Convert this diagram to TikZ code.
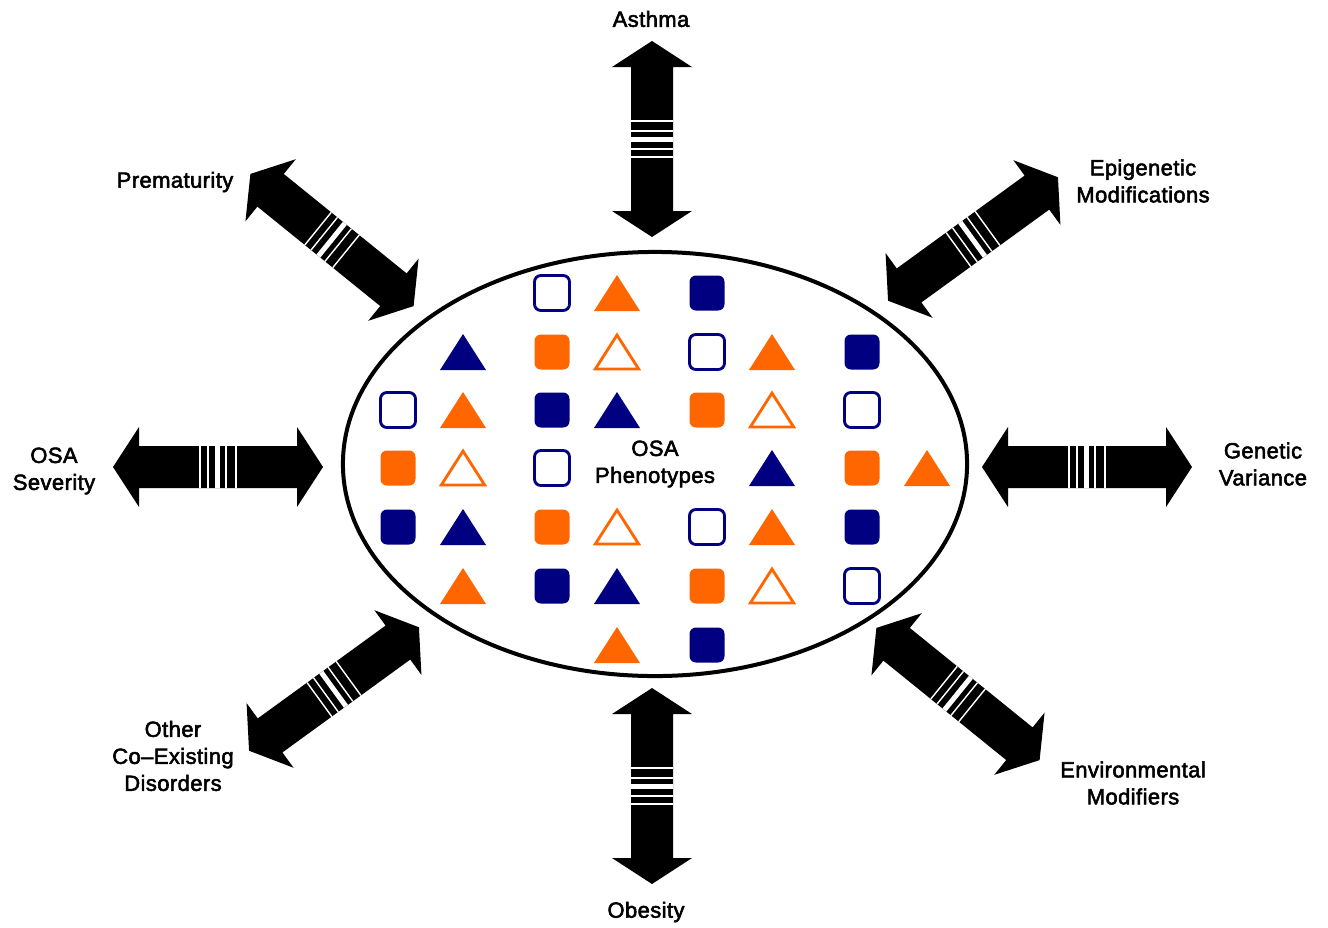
\documentclass[tikz,border=0pt]{standalone}
\usepackage{fontspec}
\newfontfamily\lblfont{Liberation Sans}[FakeBold=2.5,LetterSpace=2]
\usetikzlibrary{shapes.geometric}
\definecolor{PhenoNavy}{HTML}{000080}
\definecolor{PhenoOrange}{HTML}{FF6600}

\begin{document}
\begin{tikzpicture}[
    x=0.025cm, y=-0.025cm,
    lbl/.style={font=\lblfont\fontsize{15.6}{19.2}\selectfont,align=center,inner sep=0pt},
    % block arrow with two heads, #1 = half length
    dblarrow/.pic={
      \fill (-#1,0) -- (-#1+26,40) -- (-#1+26,21) -- (#1-26,21) -- (#1-26,40)
        -- (#1,0) -- (#1-26,-40) -- (#1-26,-21) -- (-#1+26,-21) -- (-#1+26,-40) -- cycle;
      \foreach \s in {-18,-10,8,18}
        \draw[white,line width=1pt] (\s,-21) -- (\s,21);
      \fill[white] (-3,-21) rectangle (2,21);
    },
    sq/.pic={\path[pic actions,rounded corners=4.5pt] (-17.5,-17.5) rectangle (17.5,17.5);},
    tri/.pic={\path[pic actions] (-23,18) -- (0,-18) -- (23,18) -- cycle;}
  ]
    \useasboundingbox (0,0) rectangle (1328,927);

    % centre
    \node[lbl,draw,ellipse,line width=2.85pt,minimum width=15.6cm,minimum height=10.6cm]
      (pheno) at (655,464) {OSA\\Phenotypes};

    % phenotype marks
    \foreach \x/\y in {707/293,862/352,552/410,398/527,862/527,552/586,707/645}
      \pic[fill=PhenoNavy] at (\x,\y) {sq};
    \foreach \x/\y in {552/293,707/352,398/410,862/410,552/468,707/527,862/586}
      \pic[draw=PhenoNavy,line width=2pt,fill=white] at (\x,\y) {sq};
    \foreach \x/\y in {552/352,707/410,398/468,862/468,552/527,707/586}
      \pic[fill=PhenoOrange] at (\x,\y) {sq};
    \foreach \x/\y in {617/293,772/352,463/410,927/468,772/527,463/586,617/645}
      \pic[fill=PhenoOrange] at (\x,\y) {tri};
    \foreach \x/\y in {617/352,772/410,463/468,617/527,772/586}
      \pic[draw=PhenoOrange,line width=2pt,fill=white,scale=0.94] at (\x,\y) {tri};
    \foreach \x/\y in {463/352,617/410,772/468,463/527,617/586}
      \pic[fill=PhenoNavy] at (\x,\y) {tri};

    % factors
    \node[lbl] (asthma) at (651,19) {Asthma};
    \node[lbl] (prem) at (175,182) {Prematurity};
    \node[lbl] (epi) at (1143,181) {Epigenetic\\Modifications};
    \node[lbl] (sev) at (54,471) {OSA\\Severity};
    \node[lbl] (gen) at (1263,464) {Genetic\\Variance};
    \node[lbl] (other) at (173,756) {Other\\Co–Existing\\Disorders};
    \node[lbl] (obes) at (646,912) {Obesity};
    \node[lbl] (env) at (1133,783) {Environmental\\Modifiers};

    % arrows
    \pic[rotate=90] at (652,139) {dblarrow=98};
    \pic[rotate=90] at (652,786) {dblarrow=98};
    \pic at (218,467) {dblarrow=105};
    \pic at (1087,467) {dblarrow=105};
    \pic[rotate=-39] at (332,240) {dblarrow=105};
    \pic[rotate=36] at (973,239) {dblarrow=105};
    \pic[rotate=-39] at (958,694) {dblarrow=105};
    \pic[rotate=36] at (334,689) {dblarrow=105};
\end{tikzpicture}
\end{document}
